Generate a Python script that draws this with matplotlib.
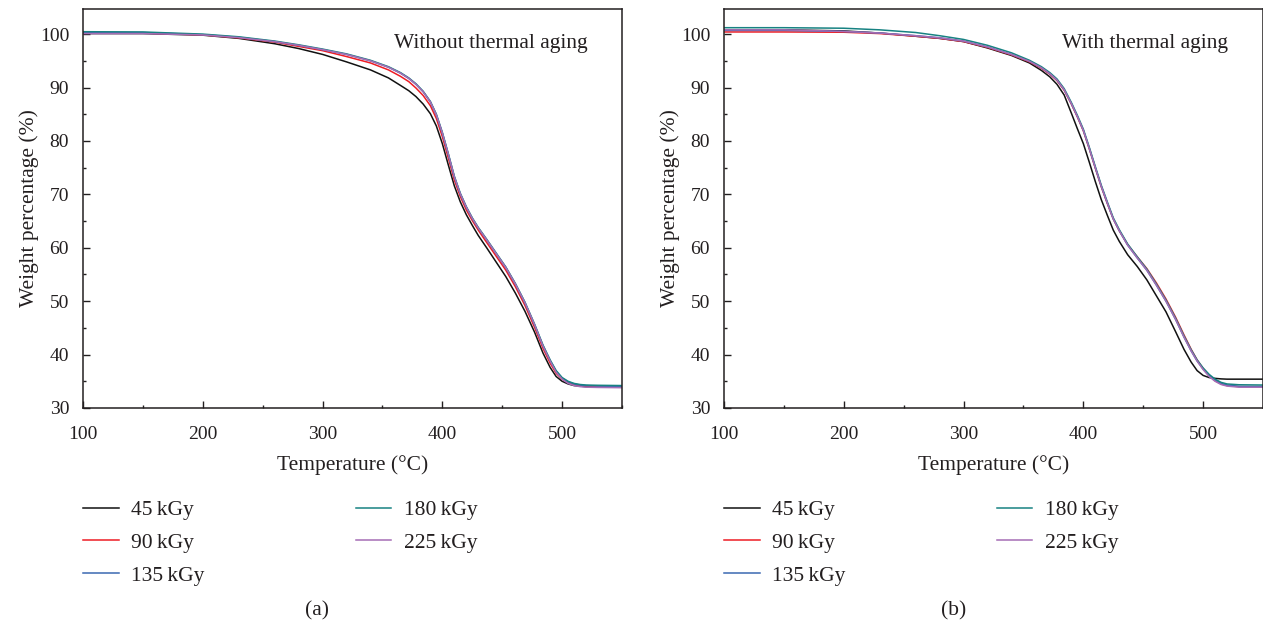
import matplotlib
matplotlib.use("Agg")
import matplotlib.pyplot as plt
from matplotlib.ticker import MultipleLocator

# temperature grid shared by every trace (degC)
temp = [100, 150, 200, 230, 260, 280, 300, 320, 340, 355, 365, 372, 378, 384, 390, 395, 400,
        405, 410, 415, 420, 425, 430, 437, 445, 453, 461, 469, 477, 484, 490, 495, 500,
        505, 510, 515, 520, 530, 550]

doses = ["45\u2009kGy", "90\u2009kGy", "135\u2009kGy", "180\u2009kGy", "225\u2009kGy"]
colors = ["#111111", "#ee1c25", "#3b68b2", "#178282", "#a56db5"]

# (a) without thermal aging
a_45 = [100.1, 100.1, 99.8, 99.2, 98.2, 97.3, 96.2, 94.8, 93.3, 91.8, 90.4, 89.4, 88.3, 86.9, 85.1, 82.8, 79.5,
        75.5, 71.6, 68.6, 66.2, 64.2, 62.3, 60.0, 57.3, 54.6, 51.5, 48.1, 44.2, 40.3, 37.6, 35.9, 35.0,
        34.5, 34.2, 34.1, 34.0, 33.95, 33.95]
a_90 = [100.2, 100.2, 99.85, 99.3, 98.5, 97.7, 96.9, 95.8, 94.6, 93.3, 92.1, 91.1, 89.9, 88.5, 86.6, 84.2, 80.8,
        76.8, 72.7, 69.6, 67.1, 65.1, 63.3, 61.0, 58.4, 55.8, 52.7, 49.2, 45.1, 41.2, 38.4, 36.5, 35.4,
        34.8, 34.4, 34.25, 34.15, 34.1, 34.05]
a_135 = [100.3, 100.3, 99.9, 99.4, 98.6, 97.9, 97.1, 96.2, 95.0, 93.8, 92.7, 91.7, 90.6, 89.2, 87.3, 84.9, 81.5,
         77.5, 73.3, 70.1, 67.6, 65.5, 63.7, 61.5, 58.9, 56.3, 53.2, 49.7, 45.6, 41.7, 38.9, 36.9, 35.6,
         34.9, 34.5, 34.3, 34.2, 34.1, 34.05]
a_180 = [100.45, 100.4, 100.0, 99.5, 98.7, 98.0, 97.2, 96.3, 95.1, 93.9, 92.8, 91.8, 90.7, 89.3, 87.4, 85.0, 81.6,
         77.6, 73.4, 70.2, 67.7, 65.6, 63.8, 61.6, 59.0, 56.4, 53.3, 49.8, 45.7, 41.8, 39.0, 37.0, 35.7,
         35.0, 34.6, 34.4, 34.3, 34.25, 34.2]
a_225 = [100.1, 100.1, 99.85, 99.35, 98.6, 97.9, 97.1, 96.2, 95.0, 93.8, 92.7, 91.7, 90.6, 89.2, 87.3, 84.9, 81.5,
         77.5, 73.3, 70.1, 67.6, 65.5, 63.7, 61.5, 58.9, 56.3, 53.2, 49.7, 45.6, 41.6, 38.8, 36.7, 35.4,
         34.6, 34.2, 34.0, 33.9, 33.85, 33.8]

# (b) with thermal aging
b_45 = [100.8, 100.8, 100.6, 100.2, 99.6, 99.2, 98.6, 97.4, 96.0, 94.6, 93.2, 92.0, 90.6, 88.6, 85.2, 82.3, 79.5,
        76.0, 72.4, 69.0, 66.1, 63.3, 61.2, 58.7, 56.5, 54.0, 51.0, 48.0, 44.3, 41.0, 38.6, 37.0, 36.1,
        35.7, 35.55, 35.45, 35.4, 35.4, 35.4]
b_90 = [100.4, 100.4, 100.35, 100.1, 99.6, 99.2, 98.6, 97.5, 96.1, 94.8, 93.6, 92.5, 91.3, 89.5, 86.9, 84.5, 81.9,
        78.5, 74.9, 71.4, 68.3, 65.4, 63.2, 60.6, 58.3, 56.1, 53.4, 50.4, 47.0, 43.7, 41.0, 39.0, 37.4,
        36.1, 35.1, 34.5, 34.2, 34.0, 34.0]
b_135 = [100.7, 100.7, 100.5, 100.2, 99.7, 99.3, 98.7, 97.6, 96.2, 94.9, 93.7, 92.6, 91.4, 89.6, 87.0, 84.6, 82.0,
         78.6, 75.0, 71.5, 68.4, 65.4, 63.2, 60.5, 58.1, 55.8, 53.0, 50.0, 46.6, 43.3, 40.7, 38.8, 37.3,
         36.1, 35.2, 34.6, 34.3, 34.05, 34.0]
b_180 = [101.2, 101.2, 101.1, 100.8, 100.3, 99.7, 99.0, 97.9, 96.5, 95.1, 93.9, 92.8, 91.6, 89.8, 87.2, 84.8, 82.2,
         78.8, 75.2, 71.7, 68.6, 65.6, 63.4, 60.7, 58.3, 56.0, 53.2, 50.2, 46.8, 43.5, 40.9, 39.0, 37.5,
         36.3, 35.4, 34.8, 34.5, 34.35, 34.3]
b_225 = [100.8, 100.8, 100.5, 100.2, 99.7, 99.3, 98.7, 97.6, 96.2, 94.9, 93.7, 92.6, 91.4, 89.6, 87.0, 84.6, 82.0,
         78.6, 75.0, 71.5, 68.4, 65.4, 63.2, 60.5, 58.1, 55.8, 53.0, 50.0, 46.6, 43.3, 40.7, 38.8, 37.2,
         35.9, 35.0, 34.4, 34.1, 33.9, 33.9]

panels = [
    ([a_45, a_90, a_135, a_180, a_225], "Without thermal aging", 0.757, "(a)"),
    ([b_45, b_90, b_135, b_180, b_225], "With thermal aging", 0.781, "(b)"),
]

plt.rcParams["font.family"] = ["Liberation Serif", "DejaVu Serif"]
ink = "#231f20"
fs = 15.5

fig = plt.figure(figsize=(12.63, 6.25), dpi=100)
lefts = [83 / 1263, 724 / 1263]
caps_x = [317 / 1263, 954 / 1263]

for (series, note, note_x, cap), left, cx in zip(panels, lefts, caps_x):
    ax = fig.add_axes([left, 1 - 408 / 625, 539 / 1263, 399 / 625])
    for ys, lab, c in zip(series, doses, colors):
        ax.plot(temp, ys, color=c, lw=1.1, label=lab)
    ax.set_xlim(100, 550)
    ax.set_ylim(30, 104.7)
    ax.xaxis.set_major_locator(MultipleLocator(100))
    ax.xaxis.set_minor_locator(MultipleLocator(50))
    ax.yaxis.set_major_locator(MultipleLocator(10))
    ax.yaxis.set_minor_locator(MultipleLocator(5))
    ax.tick_params(which="both", direction="in", top=False, right=False, colors=ink,
                   labelcolor=ink, labelsize=14, width=1.0)
    ax.tick_params(which="major", length=5)
    ax.tick_params(which="minor", length=2.5)
    ax.tick_params(axis="x", pad=13)
    ax.tick_params(axis="y", pad=10)
    for sp in ax.spines.values():
        sp.set_color(ink)
        sp.set_linewidth(1.1)
    ax.set_xlabel("Temperature (°C)", color=ink, fontsize=fs)
    ax.set_ylabel("Weight percentage (%)", color=ink, fontsize=fs)
    ax.xaxis.set_label_coords(0.5, -0.1175)
    ax.yaxis.set_label_coords(-0.082, 0.5)
    ax.text(note_x, 0.913, note, transform=ax.transAxes, ha="center", va="center",
            color=ink, fontsize=fs)
    ax.legend(loc="upper left", bbox_to_anchor=(0.0, -0.2306), ncol=2, frameon=False,
              handlelength=1.67, handletextpad=0.58, columnspacing=7.0, labelspacing=0.59,
              borderpad=0, borderaxespad=0, labelcolor=ink, fontsize=fs)
    fig.text(cx, 0.0224, cap, ha="center", va="center", color=ink, fontsize=fs)

fig.savefig("out.png", dpi=100)
